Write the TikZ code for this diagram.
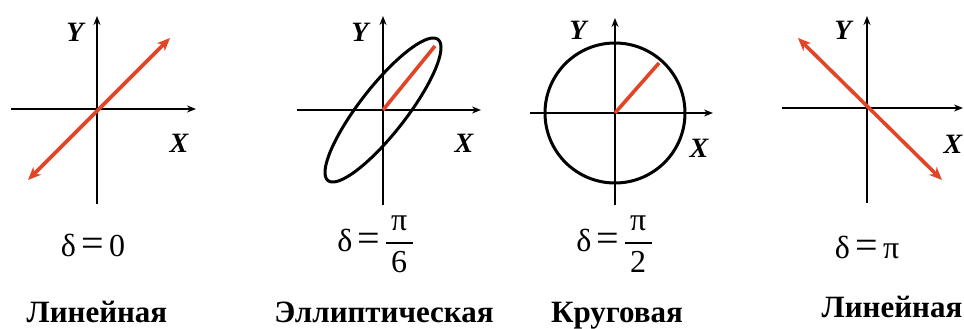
\documentclass[tikz,border=0pt]{standalone}
\usepackage{fontspec}
\usepackage{amsmath}
\setmainfont{Liberation Serif}
\usetikzlibrary{arrows.meta}
\definecolor{wavered}{RGB}{226,68,38}

\tikzset{
  axis/.style={line width=2.6pt, -{Stealth[length=9pt,width=7pt]}},
  vec/.style={wavered, line width=3.6pt},
  dblvec/.style={vec, {Stealth[length=13pt,width=11pt]}-{Stealth[length=13pt,width=11pt]}},
  orbit/.style={line width=3pt},
  axlbl/.style={font=\fontsize{28}{28}\selectfont\bfseries\itshape, inner sep=0pt},
  dlbl/.style={font=\fontsize{32}{34}\selectfont, inner sep=0pt},
  kind/.style={font=\fontsize{31}{31}\selectfont\bfseries, inner sep=0pt, anchor=base},
}
\newcommand{\eqsign}{\,{\fontsize{40}{40}\selectfont =}\,}
\newcommand{\phfrac}[1]{{\setlength{\arrayrulewidth}{2pt}%
  \begin{tabular}{@{\,}c@{\,}}π\\[1pt]\hline\rule{0pt}{29pt}#1\end{tabular}}}

\begin{document}
\begin{tikzpicture}[x=1pt, y=-1pt]
\useasboundingbox (0,0) rectangle (964,329);

% linear, delta = 0
\coordinate (o1) at (97,109);
\coordinate (xl1) at (11,109); \coordinate (xr1) at (196,109);
\coordinate (yb1) at (97,204); \coordinate (yt1) at (97,16);
\coordinate (va1) at (28,180); \coordinate (vb1) at (170,38);
\draw[axis] (xl1) -- (xr1);
\draw[axis] (yb1) -- (yt1);
\draw[dblvec] (va1) -- (vb1);
\node[axlbl] (y1) at (75,32) {Y};
\node[axlbl] (x1) at (179,143) {X};
\node[dlbl] (d1) at (93,245) {δ\eqsign 0};
\node[kind] (k1) at (97,322) {Линейная};

% elliptic, delta = pi/6
\coordinate (o2) at (383,110);
\coordinate (xl2) at (297,110); \coordinate (xr2) at (481,110);
\coordinate (yb2) at (383,205); \coordinate (yt2) at (383,16);
\coordinate (vb2) at (435,46);
\draw[axis] (xl2) -- (xr2);
\draw[axis] (yb2) -- (yt2);
\draw[orbit] plot[domain=0:356, samples=90, smooth cycle]
  ({383+58*cos(\x)}, {110-72*cos(\x-30)});
\draw[vec] (o2) -- (vb2);
\node[axlbl] (y2) at (360,32) {Y};
\node[axlbl] (x2) at (464,143) {X};
\node[dlbl] (d2) at (375,245) {δ\eqsign\phfrac{6}};
\node[kind] (k2) at (384,322) {Эллиптическая};

% circular, delta = pi/2
\coordinate (o3) at (615,113);
\coordinate (xl3) at (530,113); \coordinate (xr3) at (713,113);
\coordinate (yb3) at (615,205); \coordinate (yt3) at (615,18);
\coordinate (vb3) at (659,63);
\draw[axis] (xl3) -- (xr3);
\draw[axis] (yb3) -- (yt3);
\draw[orbit] (o3) circle[radius=70];
\draw[vec] (o3) -- (vb3);
\node[axlbl] (y3) at (578,30) {Y};
\node[axlbl] (x3) at (699,148) {X};
\node[dlbl] (d3) at (614,245) {δ\eqsign\phfrac{2}};
\node[kind] (k3) at (617,322) {Круговая};

% linear, delta = pi
\coordinate (o4) at (867,108);
\coordinate (xl4) at (782,108); \coordinate (xr4) at (963,108);
\coordinate (yb4) at (867,203); \coordinate (yt4) at (867,16);
\coordinate (va4) at (798,38); \coordinate (vb4) at (942,180);
\draw[axis] (xl4) -- (xr4);
\draw[axis] (yb4) -- (yt4);
\draw[dblvec] (va4) -- (vb4);
\node[axlbl] (y4) at (843,30) {Y};
\node[axlbl] (x4) at (953,144) {X};
\node[dlbl] (d4) at (867,247) {δ\eqsign π};
\node[kind] (k4) at (892,317) {Линейная};
\end{tikzpicture}
\end{document}
